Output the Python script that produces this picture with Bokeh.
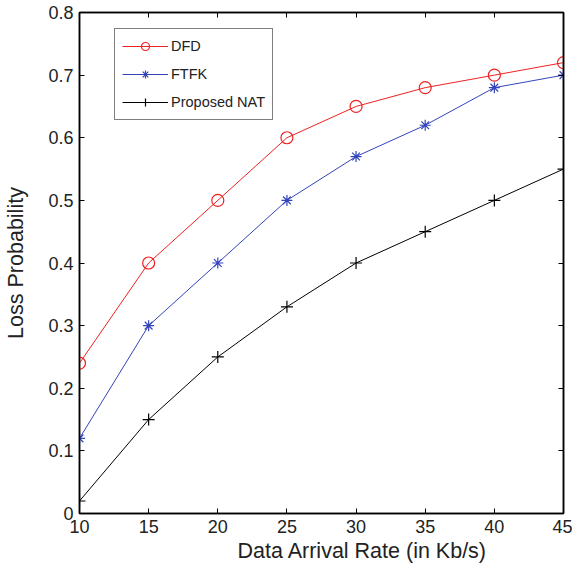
from bokeh.plotting import figure
from bokeh.models import Range1d, FixedTicker, LinearAxis, Legend, LegendItem, Title
from bokeh.embed import file_html
from bokeh.resources import INLINE

x = [10, 15, 20, 25, 30, 35, 40, 45]
dfd = [0.24, 0.40, 0.50, 0.60, 0.65, 0.68, 0.70, 0.72]
ftfk = [0.12, 0.30, 0.40, 0.50, 0.57, 0.62, 0.68, 0.70]
nat = [0.02, 0.15, 0.25, 0.33, 0.40, 0.45, 0.50, 0.55]
xticks = [10, 15, 20, 25, 30, 35, 40, 45]
yticks = [0, 0.1, 0.2, 0.3, 0.4, 0.5, 0.6, 0.7, 0.8]
ylabels = ["0", "0.1", "0.2", "0.3", "0.4", "0.5", "0.6", "0.7", "0.8"]

FONT = "Liberation Sans"

p = figure(width=572, height=563, output_backend="svg", toolbar_location=None,
           x_range=Range1d(10, 45), y_range=Range1d(0, 0.8),
           min_border_left=79, min_border_top=12, min_border_right=9, min_border_bottom=10)
p.xgrid.visible = False
p.ygrid.visible = False
p.outline_line_color = "black"
p.outline_line_width = 1.5

def style(ax):
    ax.major_tick_in = 5
    ax.major_tick_out = 0
    ax.minor_tick_in = 0
    ax.minor_tick_out = 0
    ax.axis_line_color = "black"
    ax.axis_line_width = 1.5
    ax.major_tick_line_color = "black"
    ax.major_label_text_font = FONT
    ax.major_label_text_font_size = "18px"
    ax.major_label_text_color = "#222222"
    ax.axis_label_text_font = FONT
    ax.axis_label_text_font_size = "21.5px"
    ax.axis_label_text_font_style = "normal"
    ax.axis_label_text_color = "#222222"

xa = p.xaxis[0]
ya = p.yaxis[0]
xa.ticker = FixedTicker(ticks=xticks)
ya.ticker = FixedTicker(ticks=yticks)
ya.major_label_overrides = {t: l for t, l in zip(yticks, ylabels)}
ya.axis_label = "Loss Probability"
style(xa)
style(ya)
xa.major_label_standoff = 6
ya.major_label_standoff = 6
ya.axis_label_standoff = 17

xtitle = Title(text="Data Arrival Rate (in Kb/s)", align="left", offset=158,
               text_font=FONT, text_font_size="21.5px", text_font_style="normal",
               text_color="#222222", standoff=2)
p.add_layout(xtitle, "below")

ra = LinearAxis(ticker=FixedTicker(ticks=yticks))
ta = LinearAxis(ticker=FixedTicker(ticks=xticks))
style(ra)
style(ta)
ra.major_label_overrides = {t: "" for t in yticks}
ta.major_label_overrides = {t: "" for t in xticks}
ra.major_label_standoff = 0
ta.major_label_standoff = 0
p.add_layout(ra, "right")
p.add_layout(ta, "above")

r1 = p.line(x, dfd, line_color="#ee2222", line_width=1)
m1 = p.scatter(x, dfd, marker="circle", size=12, fill_color=None, line_color="#ee2222", line_width=1.2)
r2 = p.line(x, ftfk, line_color="#3344bb", line_width=1)
m2 = p.scatter(x, ftfk, marker="asterisk", size=11, line_color="#3344bb", line_width=1.2)
r3 = p.line(x, nat, line_color="black", line_width=1)
m3 = p.scatter(x, nat, marker="cross", size=12, line_color="black", line_width=1.2)

legend = Legend(items=[LegendItem(label="DFD", renderers=[r1, m1]),
                       LegendItem(label="FTFK", renderers=[r2, m2]),
                       LegendItem(label="Proposed NAT", renderers=[r3, m3])],
                location=(35, 393))
legend.label_text_font = FONT
legend.label_text_font_size = "14.5px"
legend.label_text_color = "#222222"
legend.glyph_width = 46
legend.glyph_height = 20
legend.label_height = 20
legend.spacing = 8
legend.padding = 7
legend.margin = 0
legend.border_line_color = "black"
legend.border_line_width = 1.5
legend.label_standoff = 3
p.add_layout(legend, "center")

open("out.html", "w").write(file_html(p, INLINE))
